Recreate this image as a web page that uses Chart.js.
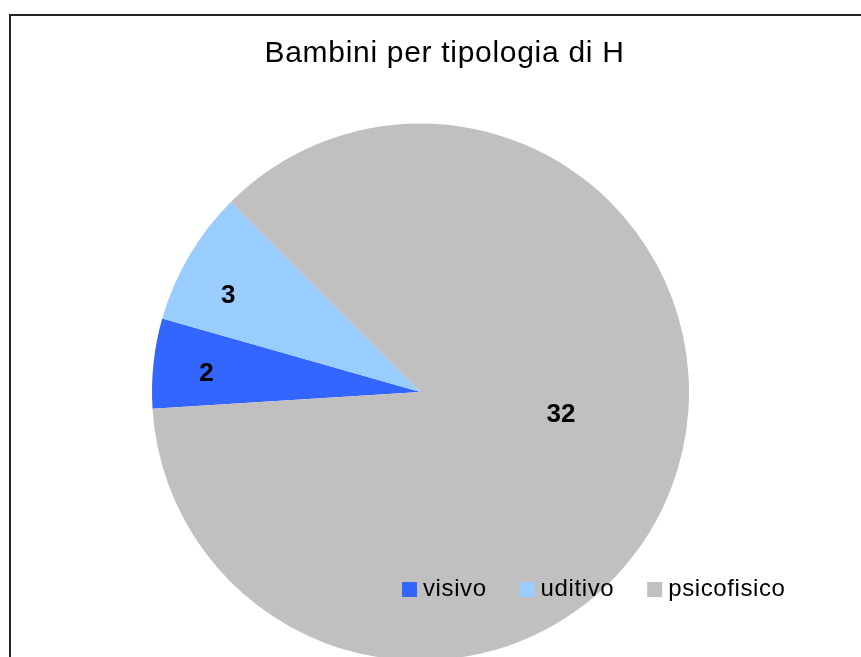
<!DOCTYPE html>
<html lang="it">
<head>
<meta charset="utf-8">
<title>Bambini per tipologia di H</title>
<script src="https://cdn.jsdelivr.net/npm/chart.js@4.4.1/dist/chart.umd.min.js"></script>
<style>
  html, body { margin: 0; padding: 0; background: #fff; overflow: hidden; }
  #contenitore { width: 861px; height: 657px; overflow: hidden; position: relative; background: #fff; }
  canvas { display: block; }
</style>
</head>
<body>
<div id="contenitore">
  <canvas id="grafico" width="861" height="700"></canvas>
</div>
<script>
// Dati del grafico
const titolo = 'Bambini per tipologia di H';
const categorie = ['visivo', 'uditivo', 'psicofisico'];
const valori = [2, 3, 32];
const colori = ['#3366FF', '#99CCFF', '#C0C0C0'];

const FONT = '"Liberation Sans", Arial, sans-serif';

// Cornice: nell'immagine si vedono solo il lato sinistro e quello superiore
const cornice = {
  id: 'cornice',
  beforeDraw(chart) {
    const ctx = chart.ctx;
    ctx.save();
    ctx.strokeStyle = '#222';
    ctx.lineWidth = 2;
    ctx.beginPath();
    ctx.moveTo(10, chart.height);
    ctx.lineTo(10, 15);
    ctx.lineTo(chart.width, 15);
    ctx.stroke();
    ctx.restore();
  }
};

// Titolo disegnato a mano (centrato un po' a destra rispetto alla torta)
const titoloPlugin = {
  id: 'titolo',
  afterDraw(chart, args, opts) {
    const ctx = chart.ctx;
    ctx.save();
    ctx.font = '30px ' + FONT;
    ctx.letterSpacing = '0.7px';
    ctx.fillStyle = '#000';
    ctx.textBaseline = 'alphabetic';
    const w = ctx.measureText(opts.testo).width;
    ctx.fillText(opts.testo, opts.x - w / 2, opts.y);
    ctx.restore();
  }
};

// Etichette con i valori dentro le fette
const etichette = {
  id: 'etichette',
  afterDatasetsDraw(chart, args, opts) {
    const ctx = chart.ctx;
    const meta = chart.getDatasetMeta(0);
    ctx.save();
    ctx.font = 'bold 26px ' + FONT;
    ctx.fillStyle = '#000';
    ctx.textAlign = 'center';
    ctx.textBaseline = 'middle';
    meta.data.forEach((arco, i) => {
      const p = arco.getProps(['x', 'y', 'startAngle', 'endAngle', 'outerRadius'], true);
      const ang = (p.startAngle + p.endAngle) / 2 + opts.spostamento[i] * Math.PI / 180;
      const r = p.outerRadius * opts.raggio[i];
      const valore = chart.data.datasets[0].data[i];
      ctx.fillText(String(valore), p.x + Math.cos(ang) * r, p.y + Math.sin(ang) * r);
    });
    ctx.restore();
  }
};

// Legenda sopra la torta, in basso
const legenda = {
  id: 'legenda',
  afterDraw(chart, args, opts) {
    const ctx = chart.ctx;
    ctx.save();
    ctx.font = '24px ' + FONT;
    ctx.letterSpacing = '0.6px';
    ctx.textBaseline = 'alphabetic';
    let x = opts.x;
    chart.data.labels.forEach((nome, i) => {
      ctx.fillStyle = chart.data.datasets[0].backgroundColor[i];
      ctx.fillRect(x, opts.y - 14, 15, 15);
      ctx.fillStyle = '#000';
      ctx.fillText(nome, x + 21, opts.y);
      x += 21 + ctx.measureText(nome).width + 33;
    });
    ctx.restore();
  }
};

const ctx = document.getElementById('grafico').getContext('2d');
const miGrafico = new Chart(ctx, {
  type: 'pie',
  data: {
    labels: categorie,
    datasets: [{
      data: valori,
      backgroundColor: colori,
      borderWidth: 0
    }]
  },
  options: {
    responsive: false,
    animation: false,
    events: [],
    rotation: 266.4,
    layout: { padding: { left: 152, right: 172, top: 123.5, bottom: 39.5 } },
    plugins: {
      legend: { display: false },
      title: { display: false },
      tooltip: { enabled: false },
      titolo: { testo: titolo, x: 444.5, y: 62 },
      etichette: { raggio: [0.8, 0.8, 0.53], spostamento: [-1.2, -4, -11.4] },
      legenda: { x: 402, y: 596 }
    }
  },
  plugins: [cornice, titoloPlugin, etichette, legenda]
});
</script>
</body>
</html>
